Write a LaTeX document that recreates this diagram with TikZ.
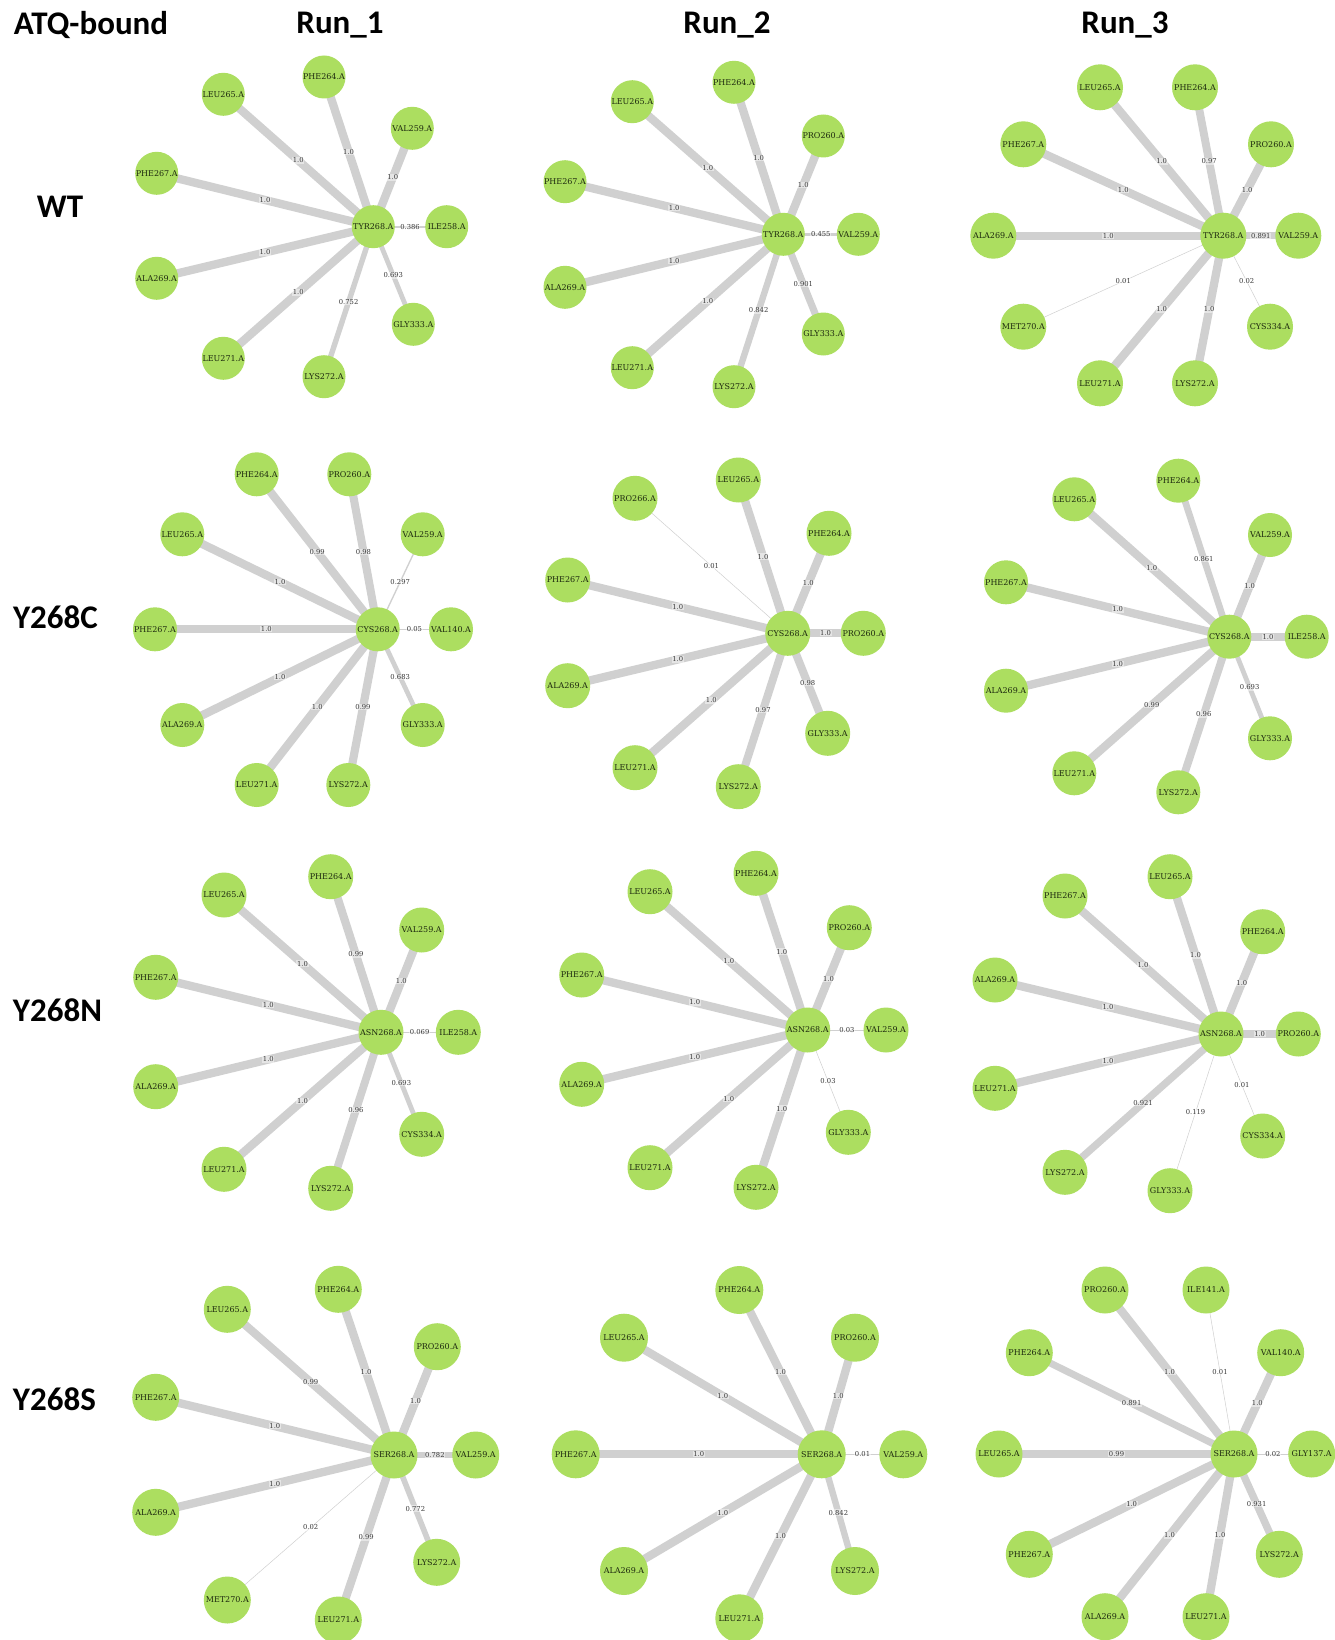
\documentclass[tikz,border=0pt]{standalone}
\usepackage{fontspec}
\newfontfamily\resfont{DejaVu Serif}
\newfontfamily\hdrfont{Carlito}
\pgfdeclarelayer{edges}
\pgfsetlayers{edges,main}

\definecolor{resgreen}{RGB}{172,222,96}
\definecolor{linkgray}{RGB}{208,208,208}
\definecolor{restext}{RGB}{28,40,14}
\definecolor{wtext}{RGB}{55,55,55}

\tikzset{
  res/.style={circle, fill=resgreen, inner sep=0pt, text=restext,
    font=\resfont\fontsize{8}{9}\selectfont},
  link/.style={draw=linkgray},
  wlab/.style={font=\resfont\fontsize{6.8}{7}\selectfont, text=wtext,
    fill=white, fill opacity=0.45, text opacity=1, inner sep=0.6pt},
  hdr/.style={font=\hdrfont\bfseries\fontsize{33}{36}\selectfont,
    text=black, inner sep=0pt}
}

% star network: #1 id, #2 hub residue, #3/#4 hub position, #5 node size,
% #6 list of  name/residue/x/y/weight
\newcommand\starnet[6]{%
  \node[res, minimum size=#5] (#1-hub) at (#3,#4) {#2};
  \foreach \nm/\lab/\px/\py/\wt in {#6} {
    \node[res, minimum size=#5] (#1-\nm) at (\px,\py) {\lab};
    \begin{pgfonlayer}{edges}
      \pgfmathsetmacro\lw{max(0.5,8.3*\wt*sqrt(\wt))}
      \draw[link, line width=\lw pt] (#1-hub.center) -- (#1-\nm.center)
        node[midway, wlab] {\wt};
    \end{pgfonlayer}
  }%
}

\begin{document}
\begin{tikzpicture}[x=1pt, y=-1pt]
\useasboundingbox (0,0) rectangle (1335,1640);
\begin{pgfonlayer}{edges}
  \fill[white] (0,0) rectangle (1335,1640);
\end{pgfonlayer}

% headers
\node[hdr] (atq) at (91,25) {ATQ-bound};
\node[hdr] (run1) at (340,25) {Run\_1};
\node[hdr] (run2) at (727,25) {Run\_2};
\node[hdr] (run3) at (1125,25) {Run\_3};
\node[hdr] (rwt) at (60,207) {WT};
\node[hdr] (rc) at (55.4,617) {Y268C};
\node[hdr] (rn) at (57.5,1010) {Y268N};
\node[hdr] (rs) at (54.4,1399) {Y268S};

% WT
\starnet{wa}{TYR268.A}{373.3}{226.7}{43}{
  a/PHE264.A/324/77/1.0, b/LEU265.A/223.3/94.3/1.0, c/VAL259.A/412.3/128.3/1.0,
  d/PHE267.A/156.7/173.3/1.0, e/ILE258.A/446.7/226.7/0.386, f/ALA269.A/156.7/278.3/1.0,
  g/GLY333.A/413.3/324.3/0.693, h/LEU271.A/223.3/358.3/1.0, i/LYS272.A/324/376.7/0.752}
\starnet{wb}{TYR268.A}{783.3}{234.3}{43}{
  a/PHE264.A/734/82.3/1.0, b/LEU265.A/632.3/101.7/1.0, c/PRO260.A/823.3/136/1.0,
  d/PHE267.A/565/181.7/1.0, e/VAL259.A/858.3/234.3/0.455, f/ALA269.A/565/287.3/1.0,
  g/GLY333.A/823.3/334/0.901, h/LEU271.A/632.3/367.7/1.0, i/LYS272.A/734/386.7/0.842}
\starnet{wc}{TYR268.A}{1223.3}{235.7}{46}{
  a/LEU265.A/1100/87.3/1.0, b/PHE264.A/1195/87.3/0.97, c/PHE267.A/1023.3/144.3/1.0,
  d/PRO260.A/1271/144.3/1.0, e/ALA269.A/993.3/235.7/1.0, f/VAL259.A/1298.3/235.7/0.891,
  g/MET270.A/1023.3/326.7/0.01, h/CYS334.A/1270/326.7/0.02, i/LEU271.A/1100/383.3/1.0,
  j/LYS272.A/1195/383.3/1.0}

% Y268C
\starnet{ca}{CYS268.A}{377.7}{629.3}{44}{
  a/PHE264.A/256.7/474.3/0.99, b/PRO260.A/349.3/474.3/0.98, c/LEU265.A/182.3/534.3/1.0,
  d/VAL259.A/422.7/534.3/0.297, e/PHE267.A/155/629.3/1.0, f/VAL140.A/451/629.3/0.05,
  g/ALA269.A/182.3/725/1.0, h/GLY333.A/422.7/725/0.683, i/LEU271.A/256.7/785/1.0,
  j/LYS272.A/348.3/785/0.99}
\starnet{cb}{CYS268.A}{787.7}{633.3}{45}{
  a/LEU265.A/738.3/480/1.0, b/PRO266.A/635/498.3/0.01, c/PHE264.A/829/533.3/1.0,
  d/PHE267.A/567.7/580/1.0, e/PRO260.A/863.3/633.3/1.0, f/ALA269.A/567.7/685.7/1.0,
  g/GLY333.A/827.7/733.3/0.98, h/LEU271.A/635/767.7/1.0, i/LYS272.A/738.3/786.7/0.97}
\starnet{cc}{CYS268.A}{1229.3}{636.7}{44}{
  a/PHE264.A/1178.3/480.7/0.861, b/LEU265.A/1074.3/499.3/1.0, c/VAL259.A/1270/535/1.0,
  d/PHE267.A/1006/582.3/1.0, e/ILE258.A/1306.7/636.7/1.0, f/ALA269.A/1006/690.7/1.0,
  g/GLY333.A/1270/738.3/0.693, h/LEU271.A/1074.3/773.3/0.99, i/LYS272.A/1178.3/792.3/0.96}

% Y268N
\starnet{na}{ASN268.A}{381}{1032.3}{45}{
  a/PHE264.A/330.7/876.7/0.99, b/LEU265.A/224/895/1.0, c/VAL259.A/421.7/930/1.0,
  d/PHE267.A/155.7/977.3/1.0, e/ILE258.A/458.3/1032.3/0.069, f/ALA269.A/155.7/1086.7/1.0,
  g/CYS334.A/421.7/1134.3/0.693, h/LEU271.A/224/1169.3/1.0, i/LYS272.A/330.7/1188.3/0.96}
\starnet{nb}{ASN268.A}{807.7}{1030}{45}{
  a/PHE264.A/756/873.3/1.0, b/LEU265.A/650/891.7/1.0, c/PRO260.A/849.3/927.7/1.0,
  d/PHE267.A/581.7/975/1.0, e/VAL259.A/886/1030/0.03, f/ALA269.A/581.7/1084.3/1.0,
  g/GLY333.A/848.3/1132.3/0.03, h/LEU271.A/650/1167.7/1.0, i/LYS272.A/756/1187.3/1.0}
\starnet{nc}{ASN268.A}{1221}{1034}{45}{
  a/LEU265.A/1170/876.7/1.0, b/PHE267.A/1065/896/1.0, c/PHE264.A/1262.7/931.7/1.0,
  d/ALA269.A/995/980/1.0, e/PRO260.A/1298.3/1034/1.0, f/LEU271.A/995/1088.3/1.0,
  g/CYS334.A/1262.7/1136/0.01, h/LYS272.A/1065/1172.3/0.921, i/GLY333.A/1170/1190.7/0.119}

% Y268S
\starnet{sa}{SER268.A}{394}{1455}{47}{
  a/PHE264.A/338.3/1289.3/1.0, b/LEU265.A/227.3/1309.3/0.99, c/PRO260.A/437.3/1346.7/1.0,
  d/PHE267.A/155.7/1397.3/1.0, e/VAL259.A/475.7/1455/0.782, f/ALA269.A/155.7/1512.3/1.0,
  g/LYS272.A/436.7/1562.3/0.772, h/MET270.A/227.3/1600/0.02, i/LEU271.A/338.3/1620/0.99}
\starnet{sb}{SER268.A}{821.7}{1454.3}{48}{
  a/PHE264.A/739.3/1290/1.0, b/LEU265.A/624/1337.7/1.0, c/PRO260.A/855/1337.7/1.0,
  d/PHE267.A/575.7/1454.3/1.0, e/VAL259.A/903.3/1454.3/0.01, f/ALA269.A/624/1571/1.0,
  g/LYS272.A/855/1571/0.842, h/LEU271.A/739.3/1618.3/1.0}
\starnet{sc}{SER268.A}{1234}{1454}{47}{
  a/PRO260.A/1105/1290/1.0, b/ILE141.A/1206/1290/0.01, c/PHE264.A/1029.3/1352.7/0.891,
  d/VAL140.A/1280.7/1352.7/1.0, e/LEU265.A/999/1454/0.99, f/GLY137.A/1311.7/1454/0.02,
  g/PHE267.A/1029.3/1554.3/1.0, h/LYS272.A/1279.3/1554.3/0.931, i/ALA269.A/1105/1616.7/1.0,
  j/LEU271.A/1206/1616.7/1.0}
\end{tikzpicture}
\end{document}
